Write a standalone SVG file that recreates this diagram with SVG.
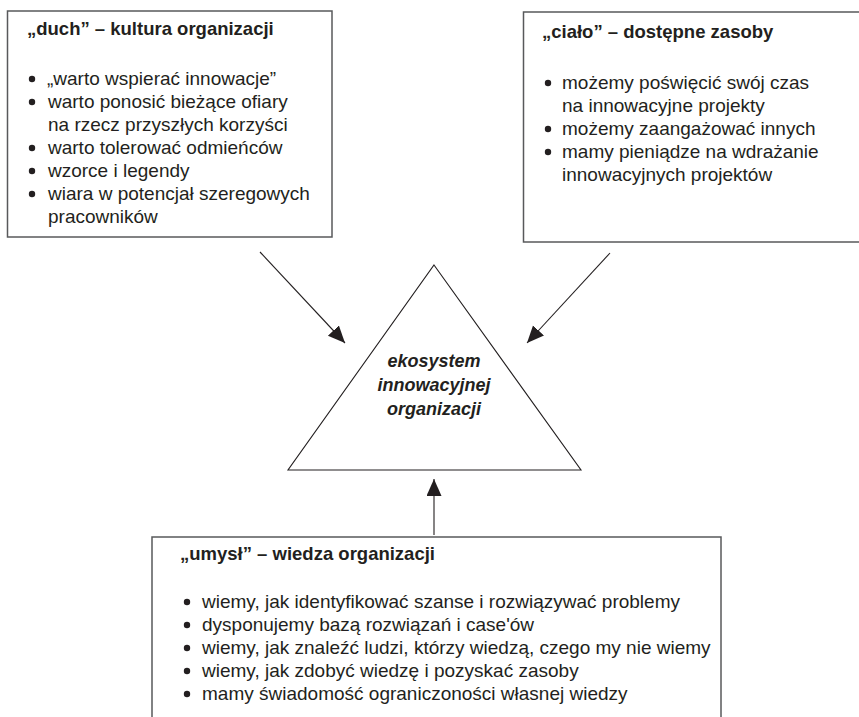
<svg xmlns="http://www.w3.org/2000/svg" width="859" height="717" viewBox="0 0 859 717">
<style>
.box{fill:#fff;stroke:#58595b;stroke-width:1.5}
.t{font-family:"Liberation Sans",Arial,sans-serif;fill:#231f20}
.title{font-size:18.5px;font-weight:bold}
.body{font-size:19px}
.center{font-size:18px;font-weight:bold;font-style:italic;text-anchor:middle}
.dot{fill:#231f20}
.conn{stroke:#231f20;stroke-width:1.1;fill:none;marker-end:url(#ah)}
</style>
<defs>
<marker id="ah" markerUnits="userSpaceOnUse" markerWidth="18" markerHeight="16" refX="17" refY="7.5" orient="auto">
<path d="M0,0 L17,7.5 L0,15 z" fill="#231f20"/>
</marker>
</defs>
<rect width="859" height="717" fill="#fff"/>
<g id="duch">
<rect class="box" x="7.5" y="11" width="324.5" height="226"/>
<text class="t title" x="27" y="35">„duch” – kultura organizacji</text>
<g class="dot"><circle cx="32" cy="79" r="3.2"/><circle cx="32" cy="102" r="3.2"/><circle cx="32" cy="148" r="3.2"/><circle cx="32" cy="171" r="3.2"/><circle cx="32" cy="194" r="3.2"/></g>
<text class="t body" x="47" y="85">„warto wspierać innowacje”</text>
<text class="t body" x="48" y="108">warto ponosić bieżące ofiary</text>
<text class="t body" x="48" y="131">na rzecz przyszłych korzyści</text>
<text class="t body" x="48" y="154">warto tolerować odmieńców</text>
<text class="t body" x="48" y="177">wzorce i legendy</text>
<text class="t body" x="48" y="200">wiara w potencjał szeregowych</text>
<text class="t body" x="48" y="223">pracowników</text>
</g>
<g id="cialo">
<rect class="box" x="523.5" y="12" width="360" height="230"/>
<text class="t title" x="542" y="38">„ciało” – dostępne zasoby</text>
<g class="dot"><circle cx="548" cy="83" r="3.2"/><circle cx="548" cy="129" r="3.2"/><circle cx="548" cy="152" r="3.2"/></g>
<text class="t body" x="562" y="89">możemy poświęcić swój czas</text>
<text class="t body" x="562" y="112">na innowacyjne projekty</text>
<text class="t body" x="562" y="135">możemy zaangażować innych</text>
<text class="t body" x="562" y="158">mamy pieniądze na wdrażanie</text>
<text class="t body" x="562" y="181">innowacyjnych projektów</text>
</g>
<g id="ekosystem">
<polygon points="434,265 581,470 288,470" fill="#fff" stroke="#231f20" stroke-width="1.1"/>
<text class="t center" x="434" y="367">ekosystem</text>
<text class="t center" x="434" y="391">innowacyjnej</text>
<text class="t center" x="434" y="415">organizacji</text>
</g>
<g id="umysl">
<rect class="box" x="152" y="537" width="569" height="200"/>
<text class="t title" x="180" y="560">„umysł” – wiedza organizacji</text>
<g class="dot"><circle cx="187" cy="602" r="3.2"/><circle cx="187" cy="625" r="3.2"/><circle cx="187" cy="648" r="3.2"/><circle cx="187" cy="671" r="3.2"/><circle cx="187" cy="694" r="3.2"/></g>
<text class="t body" x="202" y="608">wiemy, jak identyfikować szanse i rozwiązywać problemy</text>
<text class="t body" x="202" y="631">dysponujemy bazą rozwiązań i case'ów</text>
<text class="t body" x="202" y="654">wiemy, jak znaleźć ludzi, którzy wiedzą, czego my nie wiemy</text>
<text class="t body" x="202" y="677">wiemy, jak zdobyć wiedzę i pozyskać zasoby</text>
<text class="t body" x="202" y="700">mamy świadomość ograniczoności własnej wiedzy</text>
</g>
<g id="connectors">
<line class="conn" x1="260" y1="252" x2="345" y2="343"/>
<line class="conn" x1="610" y1="253" x2="527" y2="343"/>
<line class="conn" x1="434" y1="535" x2="434" y2="479"/>
</g>
</svg>
